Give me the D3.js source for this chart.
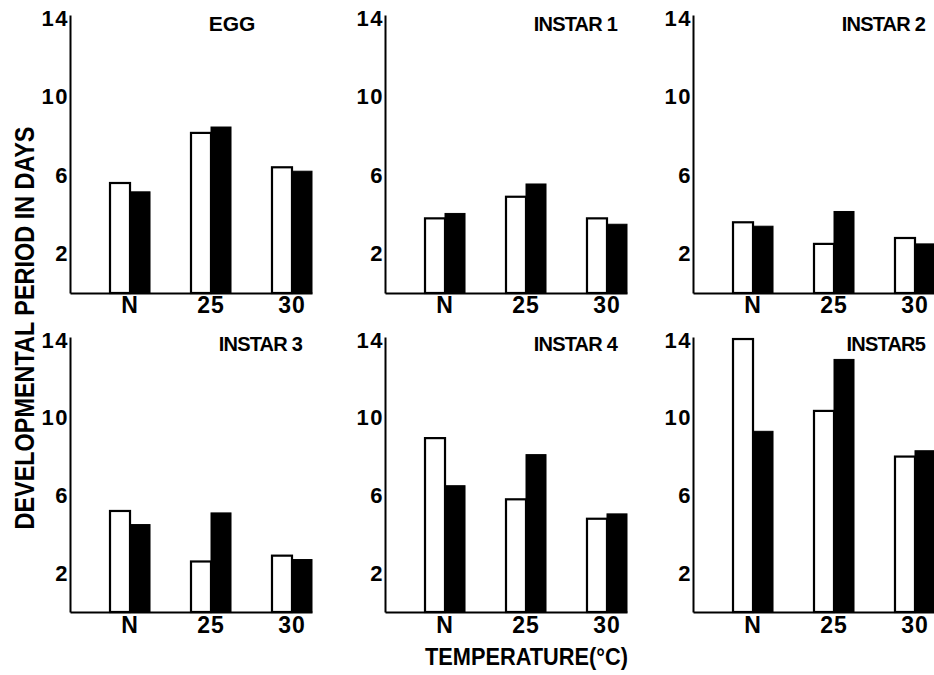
<!DOCTYPE html>
<html><head><meta charset="utf-8">
<script src="https://cdn.jsdelivr.net/npm/d3@7"></script>
<style>body{margin:0;background:#fff} svg{display:block;font-family:"Liberation Sans",Arial,sans-serif;font-weight:bold}</style>
</head><body><svg id="c" width="934" height="675"></svg>
<script>
const categories = ["N", "25", "30"];
const panelTitles = ["EGG", "INSTAR 1", "INSTAR 2", "INSTAR 3", "INSTAR 4", "INSTAR5"];
const openBars  = [[5.6, 8.15, 6.4], [3.8, 4.9, 3.8], [3.6, 2.5, 2.8], [5.2, 2.6, 2.9], [8.95, 5.8, 4.8], [14.05, 10.35, 8.0]];
const solidBars = [[5.15, 8.45, 6.2], [4.05, 5.55, 3.5], [3.4, 4.15, 2.5], [4.5, 5.1, 2.7], [6.5, 8.1, 5.05], [9.3, 13.0, 8.3]];
const yTicks = [2, 6, 10, 14];
const yLabel = "DEVELOPMENTAL PERIOD IN DAYS";
const xLabel = "TEMPERATURE(°C)";

const svg = d3.select("#c");
const colX = [70, 385, 693];
const rows = [{base: 293, top: 18}, {base: 612, top: 340}];
const panelW = 242;
const FONT = "Liberation Sans, Arial, sans-serif";

panelTitles.forEach((title, i) => {
  const ax = colX[i % 3];
  const row = rows[Math.floor(i / 3)];
  const y = d3.scaleLinear().domain([0, 14]).range([row.base, row.top]);
  const x = d3.scaleBand().domain(categories).range([ax, ax + panelW])
    .paddingInner(0.506).paddingOuter(0.247).align(1);
  const xi = d3.scaleBand().domain(["open", "solid"]).range([0, x.bandwidth()]).padding(0);
  const g = svg.append("g");

  const data = categories.map((c, k) => ({c, open: openBars[i][k], solid: solidBars[i][k]}));

  g.selectAll("rect.open").data(data).join("rect").attr("class", "open")
    .attr("x", d => x(d.c) + xi("open")).attr("width", xi.bandwidth())
    .attr("y", d => y(d.open)).attr("height", d => y(0) - y(d.open))
    .attr("fill", "#fff").attr("stroke", "#000").attr("stroke-width", 2.2);
  g.selectAll("rect.solid").data(data).join("rect").attr("class", "solid")
    .attr("x", d => x(d.c) + xi("solid")).attr("width", xi.bandwidth())
    .attr("y", d => y(d.solid)).attr("height", d => y(0) - y(d.solid))
    .attr("fill", "#000").attr("stroke", "#000").attr("stroke-width", 1);

  const yAxisScale = y.copy().domain([0, 14.15]).range([row.base, y(14.15)]);
  const ya = g.append("g").attr("transform", `translate(${ax},0)`)
    .call(d3.axisLeft(yAxisScale).tickValues(yTicks).tickSize(0).tickPadding(1).tickFormat(d3.format("d")));
  ya.select(".domain").attr("stroke", "#000").attr("stroke-width", 2);
  ya.selectAll("text").attr("font-size", 22).attr("fill", "#000").attr("font-family", FONT).attr("font-weight", "bold").attr("letter-spacing", 1.5);

  const xa = g.append("g").attr("transform", `translate(0,${row.base})`)
    .call(d3.axisBottom(x).tickSize(0).tickPadding(i < 3 ? 4 : 5));
  xa.select(".domain").attr("stroke", "#000").attr("stroke-width", 2);
  xa.selectAll("text").attr("font-size", 23).attr("fill", "#000").attr("font-family", FONT).attr("font-weight", "bold").attr("letter-spacing", 1);

  const t = g.append("text").text(title)
    .attr("y", row.top + (i < 3 ? 13 : 11))
    .attr("font-size", i === 0 ? 21 : 20).attr("letter-spacing", i === 0 ? 0 : -0.8).attr("fill", "#000");
  if (i === 0) t.attr("x", ax + 162).attr("text-anchor", "middle");
  else t.attr("x", ax + 232).attr("text-anchor", "end");
});

svg.append("text").text(yLabel)
  .attr("transform", "translate(34,328) rotate(-90)")
  .attr("text-anchor", "middle").attr("font-size", 28)
  .attr("textLength", 403).attr("lengthAdjust", "spacingAndGlyphs").attr("fill", "#000");

svg.append("text").text(xLabel)
  .attr("x", 425).attr("y", 665).attr("font-size", 24)
  .attr("textLength", 203).attr("lengthAdjust", "spacingAndGlyphs").attr("fill", "#000");
</script></body></html>
